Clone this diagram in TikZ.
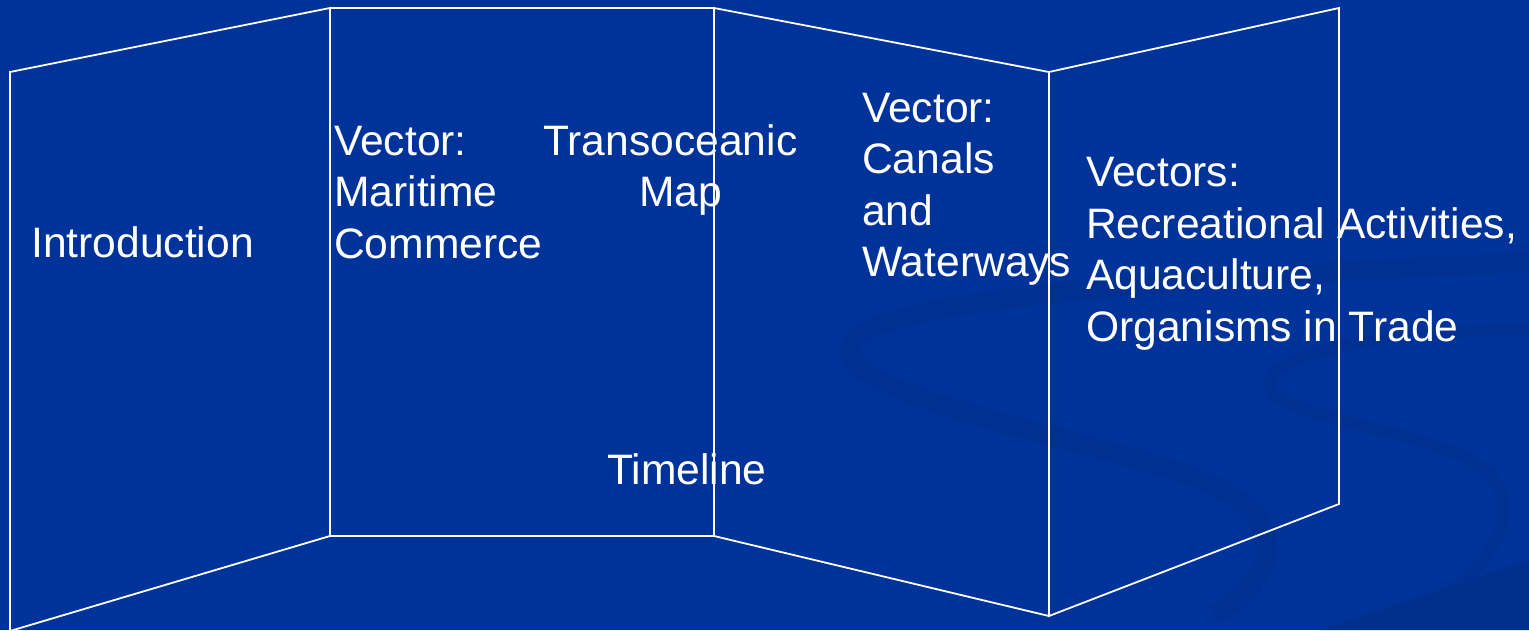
\documentclass[tikz,border=0pt]{standalone}
\usepackage{fontspec}
\setmainfont{Liberation Sans}
\begin{document}
\begin{tikzpicture}[x=1pt,y=-1pt,
  lbl/.style={text=white,inner sep=0pt,anchor=base west,font=\fontsize{42.6}{51}\selectfont},
  panel/.style={draw=white,line width=1.8pt,line join=miter},
  swirl/.style={draw=swirlblue,line cap=butt}]
\definecolor{bgblue}{HTML}{003399}
\definecolor{swirlblue}{HTML}{003192}
\definecolor{cornerblue}{HTML}{002F8C}
\useasboundingbox (0,0) rectangle (1529,630);
\fill[bgblue] (0,0) rectangle (1529,630);
% subtle background swirls
\draw[swirl,line width=20pt] (1529,262) .. controls (1150,280) and (850,300) .. (850,350)
  .. controls (850,400) and (1100,440) .. (1200,480)
  .. controls (1290,516) and (1285,570) .. (1215,615);
\draw[swirl,line width=12pt] (1529,330) .. controls (1400,330) and (1270,350) .. (1270,385)
  .. controls (1270,420) and (1450,430) .. (1490,475)
  .. controls (1525,515) and (1490,570) .. (1420,612);
\fill[cornerblue] (1529,560) -- (1529,630) -- (1320,630) -- cycle;
% panel corners
\coordinate (a1) at (10,72);   \coordinate (a2) at (10,631);
\coordinate (b1) at (330,8);   \coordinate (b2) at (330,536);
\coordinate (c1) at (714,8);   \coordinate (c2) at (714,536);
\coordinate (d1) at (1049,72); \coordinate (d2) at (1049,616);
\coordinate (e1) at (1339,8);  \coordinate (e2) at (1339,504);
\draw[panel] (a1) -- (b1) -- (b2) -- (a2) -- cycle;
\draw[panel] (b1) -- (c1) -- (c2) -- (b2) -- cycle;
\draw[panel] (c1) -- (d1) -- (d2) -- (c2) -- cycle;
\draw[panel] (d1) -- (e1) -- (e2) -- (d2) -- cycle;
% texts
\node[lbl] (intro) at (31,257) {Introduction};
\node[lbl] (vec1) at (334,155) {Vector:};
\node[lbl] (trans) at (543,155) {Transoceanic};
\node[lbl] (mar) at (334,206.5) {Maritime};
\node[lbl] (map) at (639,206.5) {Map};
\node[lbl] (comm) at (334,258) {Commerce};
\node[lbl] (timeline) at (607,484) {Timeline};
\node[lbl] (vec2) at (862,122) {Vector:};
\node[lbl] (canals) at (862,173.5) {Canals};
\node[lbl] (and) at (862,225) {and};
\node[lbl] (water) at (862,276) {Waterways};
\node[lbl] (vecs) at (1086,186) {Vectors:};
\node[lbl] (recr) at (1086,238) {Recreational Activities,};
\node[lbl] (aqua) at (1086,289.5) {Aquaculture,};
\node[lbl] (org) at (1086,341) {Organisms in Trade};
\end{tikzpicture}
\end{document}
